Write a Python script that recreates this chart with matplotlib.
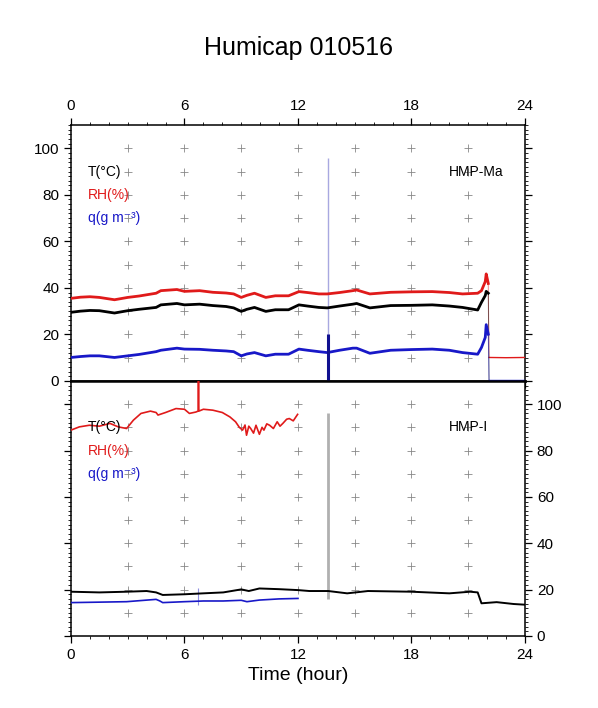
import matplotlib
matplotlib.use("Agg")
import matplotlib.pyplot as plt
from matplotlib.ticker import MultipleLocator

plt.rcParams['font.family'] = ['Liberation Sans', 'DejaVu Sans']

# HMP-Ma (upper panel)
top_time = [0, 0.5, 1.0, 1.5, 2.3, 3.0, 3.6, 4.5, 4.75, 5.6,
            6.0, 6.8, 7.5, 8.2, 8.6, 9.0, 9.3, 9.7, 10.3, 10.8,
            11.5, 12.05, 12.5, 13.1, 13.55, 14.2, 14.9, 15.1, 15.8, 16.9,
            18.0, 19.1, 20.0, 20.7, 21.5, 21.7, 21.9, 21.95, 22.06, 22.1,
            23.0, 24.0]
top_rh = [35.5, 36.0, 36.2, 35.9, 34.9, 35.9, 36.5, 37.7, 38.8, 39.3,
          38.5, 38.8, 38.1, 37.8, 37.4, 35.9, 36.8, 37.7, 35.9, 36.6,
          36.6, 38.4, 38.0, 37.4, 37.4, 38.0, 38.8, 39.1, 37.4, 38.1,
          38.3, 38.4, 38.0, 37.4, 37.7, 38.8, 42.7, 46.0, 41.9, 10.1,
          10.0, 10.1]
top_temp = [29.5, 30.0, 30.3, 30.2, 29.2, 30.2, 30.8, 31.6, 32.7, 33.3,
            32.7, 33.0, 32.4, 32.0, 31.4, 29.9, 30.8, 31.6, 29.9, 30.6,
            30.6, 32.7, 32.2, 31.6, 31.4, 32.2, 33.0, 33.3, 31.4, 32.4,
            32.5, 32.7, 32.2, 31.6, 30.5, 33.8, 36.7, 38.5, 37.7, 0,
            0, 0]
top_q = [10.1, 10.5, 10.8, 10.8, 10.1, 10.8, 11.4, 12.6, 13.2, 14.1,
         13.7, 13.6, 13.2, 12.9, 12.6, 10.8, 11.6, 12.2, 10.8, 11.5,
         11.5, 13.7, 13.2, 12.6, 12.2, 13.2, 14.1, 14.1, 11.9, 13.2,
         13.5, 13.7, 13.2, 12.2, 11.5, 14.4, 18.7, 24.2, 20.1, 0.3,
         0.3, 0.3]
top_drop_time = 22.1
top_spike_time = 13.58
top_spike_high = 96
top_spike_dense = 20

# HMP-I (lower panel)
bot_rh_time = [0, 0.44, 0.97, 1.5, 2.06, 2.5, 2.94, 3.3, 3.7, 4.2,
               4.5, 4.6, 5.0, 5.55, 6.0, 6.26, 6.6, 6.72, 6.74, 6.76,
               7.0, 7.5, 8.0, 8.4, 8.7, 8.9, 9.07, 9.2, 9.28, 9.4,
               9.5, 9.65, 9.78, 9.96, 10.1, 10.2, 10.35, 10.5, 10.7, 10.9,
               11.05, 11.2, 11.4, 11.54, 11.75, 11.98]
bot_rh = [88.8, 90.2, 90.9, 90.5, 91.7, 90.2, 89.5, 93.1, 96.0, 97.0,
          96.4, 95.3, 96.4, 98.1, 97.8, 96.0, 96.6, 97.0, 112, 97.0,
          97.8, 97.4, 96.4, 94.5, 92.4, 90.0, 88.8, 91.0, 86.6, 90.5,
          89.5, 87.5, 90.9, 87.0, 90.0, 88.8, 91.5, 90.9, 89.5, 92.4,
          90.5, 91.7, 93.5, 93.8, 92.8, 95.6]
bot_temp_time = [0, 1.5, 2.94, 4.0, 4.5, 4.85, 6.0, 7.0, 8.05, 9.0,
                 9.4, 9.96, 11.0, 12.0, 12.6, 13.6, 14.6, 15.7, 18.0, 20.0,
                 21.1, 21.5, 21.7, 22.5, 23.4, 24.0]
bot_temp = [19.1, 18.8, 19.1, 19.4, 18.8, 17.7, 18.0, 18.4, 18.8, 20.1,
            19.4, 20.5, 20.2, 19.8, 19.4, 19.4, 18.4, 19.4, 19.1, 18.4,
            19.1, 18.8, 14.1, 14.6, 13.8, 13.5]
bot_q_time = [0, 1.5, 2.94, 4.5, 4.7, 4.85, 6.0, 7.0, 8.05, 9.0,
              9.3, 9.96, 11.0, 12.0]
bot_q = [14.4, 14.6, 14.8, 15.8, 15.1, 14.4, 14.8, 15.1, 15.1, 15.4,
         14.8, 15.5, 16.0, 16.2]
bot_spike_time = 13.58
bot_spike_range = (16, 96)
bot_qspike_time = 6.73
bot_qspike_range = (13.4, 20.8)

grid_x = [3, 6, 9, 12, 15, 18, 21]
grid_y = [10, 20, 30, 40, 50, 60, 70, 80, 90, 100]

RED = '#e01a1a'
BLUE = '#1818c8'

fig = plt.figure(figsize=(5.98, 7.08), dpi=100)
ax1 = fig.add_axes([0.1187, 0.4619, 0.7592, 0.3616])
ax2 = fig.add_axes([0.1187, 0.1017, 0.7592, 0.3602])

for ax in (ax1, ax2):
    ax.set_xlim(0, 24)
    ax.set_ylim(0, 110)
    for gx in grid_x:
        ax.plot([gx] * len(grid_y), grid_y, ls='none', marker='+',
                ms=6, mew=0.6, color='#888888', zorder=1)
    ax.xaxis.set_major_locator(MultipleLocator(6))
    ax.xaxis.set_minor_locator(MultipleLocator(1))
    ax.yaxis.set_major_locator(MultipleLocator(20))
    ax.yaxis.set_minor_locator(MultipleLocator(2))
    ax.tick_params(which='major', direction='out', length=5, width=0.9,
                   labelsize=11)
    ax.tick_params(which='minor', direction='out', length=2.5, width=0.6)
    for s in ax.spines.values():
        s.set_linewidth(1.1)

# upper panel: thick noisy trace until the sensor drop, thin afterwards
k = top_time.index(top_drop_time)
for vals, col in ((top_rh, RED), (top_temp, 'black'), (top_q, BLUE)):
    ax1.plot(top_time[:k], vals[:k], color=col, lw=2.0, zorder=3)
    ax1.plot(top_time[k - 1:k + 1], vals[k - 1:k + 1], color=col, lw=0.7,
             alpha=0.5, zorder=3)
    ax1.plot(top_time[k:], vals[k:], color=col, lw=1.0, zorder=3)
ax1.vlines(top_spike_time, 0, top_spike_high, color='#a8a8e0', lw=1.0, zorder=2)
ax1.vlines(top_spike_time, 0, top_spike_dense, color='#101090', lw=2.2, zorder=4)
ax1.tick_params(axis='x', which='both', top=True, bottom=True,
                labeltop=True, labelbottom=False)
ax1.tick_params(axis='y', which='both', left=True, right=True,
                labelleft=True, labelright=False)
ax1.spines['bottom'].set_linewidth(1.8)

# lower panel
ax2.plot(bot_rh_time, bot_rh, color=RED, lw=1.2, zorder=3)
ax2.plot(bot_temp_time, bot_temp, color='black', lw=1.4, zorder=3)
ax2.plot(bot_q_time, bot_q, color=BLUE, lw=1.2, zorder=3)
ax2.vlines(bot_spike_time, *bot_spike_range, color='#b0b0b0', lw=2.0, zorder=2)
ax2.vlines(bot_qspike_time, *bot_qspike_range, color='#9090e0', lw=0.8, zorder=2)
ax2.tick_params(axis='x', which='both', top=False, bottom=True,
                labeltop=False, labelbottom=True)
ax2.tick_params(axis='y', which='both', left=True, right=True,
                labelleft=False, labelright=True)
ax2.spines['top'].set_linewidth(1.8)

labels = [('T(°C)', 'black'), ('RH(%)', RED), ('q(g m\u207b\u00b3)', BLUE)]
for ax, name in ((ax1, 'HMP-Ma'), (ax2, 'HMP-I')):
    for (txt, col), yy in zip(labels, [90, 80, 70]):
        ax.text(0.9, yy, txt, color=col, fontsize=10, ha='left', va='center',
                zorder=5)
    ax.text(20.0, 90, name, fontsize=10, ha='left', va='center', zorder=5)

ax2.set_xlabel('Time (hour)', fontsize=14, labelpad=4)
fig.text(0.5, 0.932, 'Humicap 010516', fontsize=18, ha='center', va='center')

fig.savefig('out.png', dpi=100)
